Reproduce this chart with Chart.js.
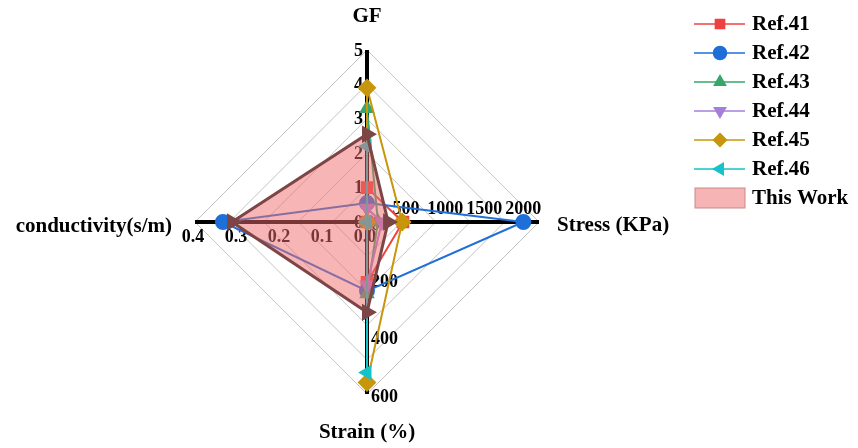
<!DOCTYPE html>
<html>
<head>
<meta charset="utf-8">
<script src="https://cdn.jsdelivr.net/npm/chart.js@4/dist/chart.umd.min.js"></script>
<style>
  html, body { margin: 0; padding: 0; background: #fff; }
  #wrap { width: 858px; height: 448px; position: relative; }
</style>
</head>
<body>
<div id="wrap"><canvas id="radar" width="858" height="448"></canvas></div>
<script>
// ------------------------------------------------------------
// data (raw units, one value per axis: GF, stress, strain, conductivity)
// ------------------------------------------------------------
var axisNames = ['GF', 'Stress (KPa)', 'Strain (%)', 'conductivity(s/m)'];
var axisMax   = [5, 2200, 600, 0.4];

var gfTicks     = [0, 1, 2, 3, 4, 5];
var stressTicks = [0, 500, 1000, 1500, 2000];
var strainTicks = [0, 200, 400, 600];
var condTicks   = ['0.0', '0.1', '0.2', '0.3', '0.4'];

var seriesNames = ['Ref.41', 'Ref.42', 'Ref.43', 'Ref.44', 'Ref.45', 'Ref.46', 'This Work'];
var ref41    = [1.0, 460, 210, 0];
var ref42    = [0.55, 2000, 240, 0.335];
var ref43    = [3.3, 140, 250, 0];
var ref44    = [0.4, 190, 220, 0];
var ref45    = [3.9, 450, 560, 0];
var ref46    = [2.2, 0, 525, 0];
var thisWork = [2.55, 270, 315, 0.314];

var seriesValues = [ref41, ref42, ref43, ref44, ref45, ref46, thisWork];
var colors = ['#EE4242', '#1F6FD8', '#35A76A', '#A57FDA', '#C8960C', '#16C3C6', '#7D4545'];
var styles = ['rect', 'circle', 'triangle', 'triangle', 'rectRot', 'triangle', 'triangle'];
var rotations = [0, 0, 0, 180, 0, 270, 90];
var radii = [7.5, 7, 7, 7, 8, 7, 7];

var SERIF = '"Liberation Serif", "DejaVu Serif", serif';

function norm(vals) {
  return vals.map(function(v, i) { return v / axisMax[i]; });
}

// later series are painted over earlier ones, "This Work" last
var datasets = seriesValues.map(function(vals, k) {
  var mine = k === seriesValues.length - 1;
  return {
    label: seriesNames[k],
    data: norm(vals),
    borderColor: colors[k],
    backgroundColor: mine ? 'rgba(240,108,108,0.5)' : colors[k],
    pointBackgroundColor: colors[k],
    pointBorderColor: colors[k],
    pointStyle: styles[k],
    pointRotation: rotations[k],
    pointRadius: radii[k],
    borderWidth: mine ? 3 : 2,
    fill: mine ? 'origin' : false,
    order: seriesValues.length - 1 - k
  };
});

// ------------------------------------------------------------
// per-axis tick labels, axis titles and the legend
// ------------------------------------------------------------
function at(s, i, v) {
  return s.getPointPositionForValue(i, v / axisMax[i]);
}

var radarExtras = {
  id: 'radarExtras',
  beforeDatasetsDraw: function(chart) {
    var ctx = chart.ctx, s = chart.scales.r;
    ctx.save();
    ctx.fillStyle = '#000';
    ctx.font = 'bold 18px ' + SERIF;
    ctx.textBaseline = 'middle';

    ctx.textAlign = 'right';
    gfTicks.forEach(function(t) {
      var p = at(s, 0, t);
      ctx.fillText(String(t), p.x - 4, p.y + 1);
    });

    ctx.textAlign = 'center';
    stressTicks.forEach(function(t) {
      var p = at(s, 1, t);
      ctx.fillText(String(t), p.x, p.y - 13);
    });

    ctx.textAlign = 'left';
    strainTicks.forEach(function(t) {
      var p = at(s, 2, t);
      ctx.fillText(String(t), p.x + 4, p.y + 3);
    });

    ctx.textAlign = 'center';
    condTicks.forEach(function(t) {
      var p = at(s, 3, parseFloat(t));
      ctx.fillText(t, p.x - 2, p.y + 15);
    });
    ctx.restore();
  },
  afterDraw: function(chart) {
    var ctx = chart.ctx, s = chart.scales.r;
    var r = s.drawingArea;
    ctx.save();
    ctx.fillStyle = '#000';
    ctx.font = 'bold 21px ' + SERIF;
    ctx.textBaseline = 'middle';

    // axis titles
    var p = s.getPointPosition(0, r + 33);
    ctx.textAlign = 'center';
    ctx.fillText(axisNames[0], p.x, p.y);
    p = s.getPointPosition(1, r + 18);
    ctx.textAlign = 'left';
    ctx.fillText(axisNames[1], p.x, p.y + 4);
    p = s.getPointPosition(2, r + 38);
    ctx.textAlign = 'center';
    ctx.fillText(axisNames[2], p.x, p.y + 1);
    p = s.getPointPosition(3, r + 23);
    ctx.textAlign = 'right';
    ctx.fillText(axisNames[3], p.x, p.y + 5);

    // legend
    var lx = 694, ly = 24, step = 29;
    ctx.textAlign = 'left';
    chart.data.datasets.forEach(function(ds, k) {
      var y = ly + k * step;
      if (ds.fill) {
        ctx.fillStyle = '#F6B4B4';
        ctx.fillRect(lx + 1, y - 10, 50, 20);
        ctx.strokeStyle = '#C98A8A';
        ctx.lineWidth = 1;
        ctx.strokeRect(lx + 1, y - 10, 50, 20);
      } else {
        ctx.strokeStyle = ds.borderColor;
        ctx.lineWidth = 1.5;
        ctx.beginPath();
        ctx.moveTo(lx, y);
        ctx.lineTo(lx + 51, y);
        ctx.stroke();
        ctx.fillStyle = ds.borderColor;
        if (Chart.helpers && Chart.helpers.drawPoint) {
          Chart.helpers.drawPoint(ctx, {
            pointStyle: ds.pointStyle, radius: 6.5, rotation: ds.pointRotation, borderWidth: 1
          }, lx + 26, y);
        }
      }
      ctx.fillStyle = '#000';
      ctx.fillText(ds.label, lx + 58, y + 1);
    });
    ctx.restore();
  }
};

new Chart(document.getElementById('radar'), {
  type: 'radar',
  data: { labels: axisNames, datasets: datasets },
  options: {
    responsive: false,
    animation: false,
    layout: { padding: { left: 195, right: 319, top: 50, bottom: 54 } },
    plugins: { legend: { display: false }, tooltip: { enabled: false } },
    elements: { line: { tension: 0 } },
    scales: {
      r: {
        min: 0,
        max: 1,
        ticks: { display: false, stepSize: 0.2 },
        pointLabels: { display: false },
        grid: { circular: false, color: '#b4b4b4', lineWidth: 0.8 },
        angleLines: { color: '#000', lineWidth: 4 }
      }
    }
  },
  plugins: [radarExtras]
});
</script>
</body>
</html>
